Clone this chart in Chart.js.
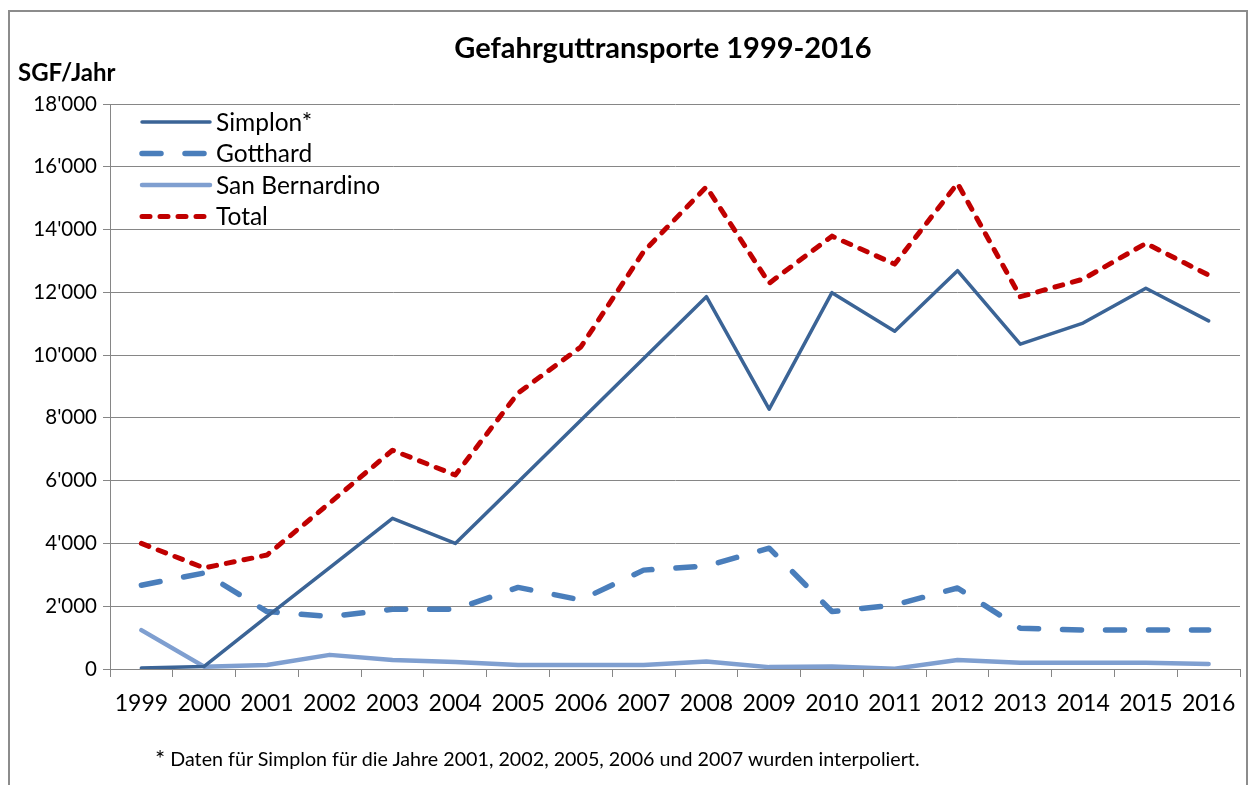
<!DOCTYPE html>
<html lang="de">
<head>
  <meta charset="UTF-8">
  <title>Gefahrguttransporte 1999-2016</title>
  <script src="https://cdn.jsdelivr.net/npm/chart.js"></script>
  <style>
    body { margin: 0; background: #fff; font-family: Lato, sans-serif; }
    #wrap { position: relative; width: 1251px; height: 785px; overflow: hidden; }
    #frame { position: absolute; left: 8px; top: 10px; width: 1236px; height: 800px; border: 2px solid #8c8c8c; }
    #title { position: absolute; left: 0; top: 29px; width: 1326px; text-align: center; font-weight: bold; font-size: 29px; color: #000; }
    #unit { position: absolute; left: 18px; top: 57px; font-weight: bold; font-size: 24px; color: #000; }
    #note { position: absolute; left: 155px; top: 743px; font-size: 19.7px; color: #000; }
    #note span { font-size: 24px; vertical-align: -1px; }
    canvas { position: absolute; left: 0; top: 0; }
  </style>
</head>
<body>
  <div id="wrap">
    <div id="frame"></div>
    <canvas id="gefahrChart" width="1251" height="785"></canvas>
    <div id="title">Gefahrguttransporte 1999-2016</div>
    <div id="unit">SGF/Jahr</div>
    <div id="note"><span>*</span> Daten für Simplon für die Jahre 2001, 2002, 2005, 2006 und 2007 wurden interpoliert.</div>
  </div>

  <script>
    const jahre = ["1999","2000","2001","2002","2003","2004","2005","2006","2007","2008","2009","2010","2011","2012","2013","2014","2015","2016"];
    const simplon = [30, 80, 1670, 3230, 4800, 4000, 5960, 7925, 9890, 11860, 8280, 11990, 10760, 12690, 10350, 11020, 12130, 11090];
    const gotthard = [2670, 3060, 1830, 1670, 1900, 1900, 2600, 2200, 3150, 3280, 3850, 1830, 2040, 2580, 1300, 1240, 1240, 1240];
    const sanBernardino = [1240, 75, 130, 450, 290, 220, 130, 130, 130, 240, 60, 80, 10, 290, 200, 200, 200, 160];
    const total = [4000, 3220, 3630, 5290, 6970, 6180, 8790, 10260, 13300, 15360, 12290, 13790, 12900, 15470, 11860, 12420, 13560, 12550];

    const gridColor = "#868686";

    function fmt(v) {
      return String(v).replace(/\B(?=(\d{3})+(?!\d))/g, "'");
    }

    // Legende innerhalb der Zeichenfläche oben links
    const innerLegend = {
      id: "innerLegend",
      afterDatasetsDraw(chart) {
        const ctx = chart.ctx;
        const a = chart.chartArea;
        ctx.save();
        ctx.font = "24.5px Lato";
        ctx.textBaseline = "middle";
        chart.data.datasets.forEach((ds, i) => {
          const y = a.top + 18 + i * 31.5;
          ctx.strokeStyle = ds.borderColor;
          ctx.lineWidth = ds.borderWidth;
          ctx.lineCap = ds.borderCapStyle || "butt";
          ctx.setLineDash(ds.borderDash || []);
          ctx.beginPath();
          ctx.moveTo(a.left + 32, y);
          ctx.lineTo(a.left + 100, y);
          ctx.stroke();
          ctx.setLineDash([]);
          ctx.fillStyle = "#000";
          ctx.fillText(ds.label, a.left + 106, y + 1);
        });
        ctx.restore();
      }
    };

    new Chart(document.getElementById("gefahrChart"), {
      type: "line",
      data: {
        labels: jahre,
        datasets: [
          { label: "Simplon*", data: simplon, borderColor: "#3b6496", borderWidth: 3.5, borderCapStyle: "round" },
          { label: "Gotthard", data: gotthard, borderColor: "#4a7ebb", borderWidth: 5.5, borderDash: [19, 24], borderCapStyle: "round" },
          { label: "San Bernardino", data: sanBernardino, borderColor: "#7f9fd0", borderWidth: 4.5, borderCapStyle: "round" },
          { label: "Total", data: total, borderColor: "#c00000", borderWidth: 5, borderDash: [8, 10], borderCapStyle: "round" }
        ]
      },
      options: {
        responsive: false,
        animation: false,
        devicePixelRatio: 1,
        elements: {
          point: { radius: 0, hoverRadius: 0 },
          line: { tension: 0, borderJoinStyle: "round" }
        },
        layout: { padding: { left: 0, right: 11, top: 104, bottom: 66 } },
        plugins: {
          legend: { display: false },
          tooltip: { enabled: false },
          title: { display: false }
        },
        scales: {
          x: {
            offset: true,
            grid: { display: true, offset: true, drawOnChartArea: false, drawTicks: true, tickLength: 8, color: gridColor },
            border: { display: true, color: gridColor, width: 1 },
            ticks: { color: "#000", font: { family: "Lato", size: 23 }, padding: 13, maxRotation: 0, autoSkip: false },
            afterFit(scale) { scale.height = 50; }
          },
          y: {
            min: 0,
            max: 18000,
            ticks: { stepSize: 2000, color: "#000", font: { family: "Lato", size: 20.5 }, padding: 6, callback: v => fmt(v) },
            grid: { color: gridColor, tickLength: 7 },
            border: { display: true, color: gridColor, width: 1 },
            afterFit(scale) { scale.width = 110; }
          }
        }
      },
      plugins: [innerLegend]
    });
  </script>
</body>
</html>
